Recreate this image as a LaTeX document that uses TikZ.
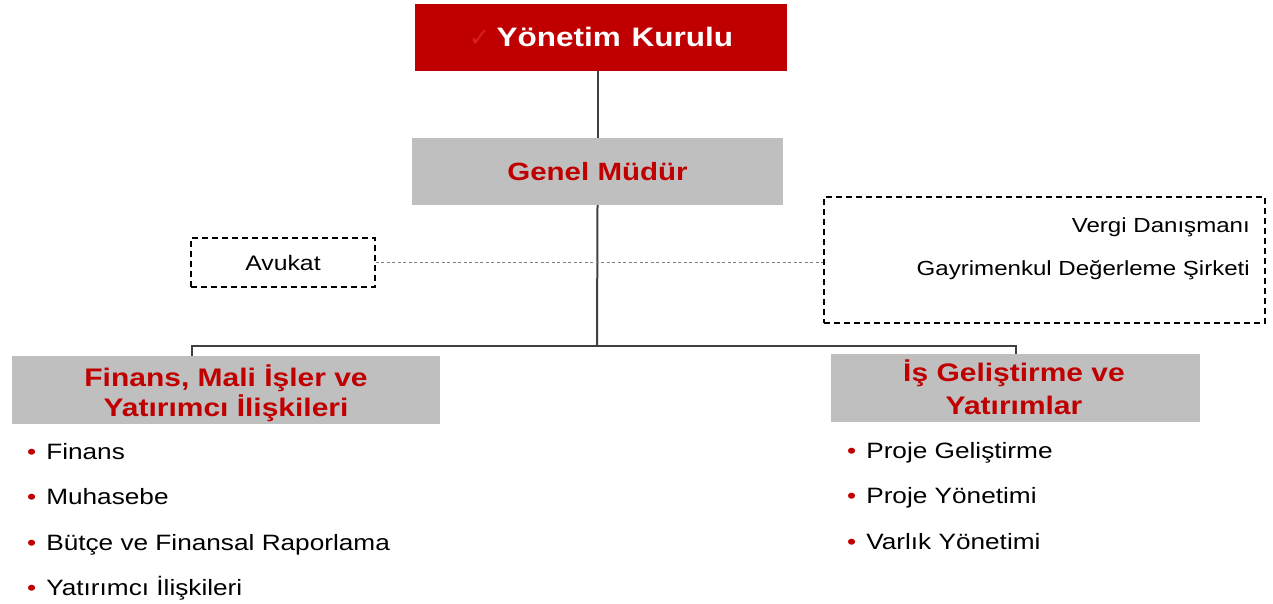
\documentclass[tikz,border=0pt]{standalone}
\usepackage{fontspec}
\setmainfont[FakeStretch=1.18]{Liberation Sans}
\newfontfamily\symfont{DejaVu Sans}
\definecolor{tred}{HTML}{C00000}
\definecolor{chk}{HTML}{D42020}
\definecolor{tgray}{HTML}{BFBFBF}
\definecolor{tline}{HTML}{404040}
\newcommand{\bul}{{\textcolor{tred}{\fontsize{22}{22}\selectfont •}}\hspace{10pt}}
\tikzset{
  redbox/.style={fill=tred, draw=none, inner sep=0pt, text=white, font=\fontsize{26.7}{30}\selectfont\bfseries},
  graybox/.style={fill=tgray, draw=none, inner sep=0pt},
  boxtext/.style={inner sep=0pt, text=tred, align=center, font=\fontsize{25.4}{30}\selectfont\bfseries},
  dashbox/.style={draw=black, dash pattern=on 6pt off 4pt, line width=1.5pt, inner sep=0pt},
  conn/.style={draw=tline, line width=2pt},
  dotconn/.style={draw=gray, dash pattern=on 3pt off 2.5pt, line width=0.9pt},
  item/.style={anchor=base west, inner sep=0pt, font=\fontsize{22.2}{26}\selectfont},
  adv/.style={anchor=base east, inner sep=0pt, font=\fontsize{20.4}{24}\selectfont},
}
\begin{document}
\begin{tikzpicture}[x=1pt,y=-1pt]
\useasboundingbox (0,0) rectangle (1273,603);
% boxes
\node[redbox, minimum width=372pt, minimum height=67pt] (top) at (601,37)
  {{\symfont\color{chk}\fontsize{26}{26}\selectfont ✓}\hspace{6pt}Yönetim\hspace{0.4em}Kurulu};
\node[graybox, minimum width=371pt, minimum height=67pt, text=tred, font=\fontsize{25}{30}\selectfont\bfseries] (gm) at (597.5,171.5) {Genel Müdür};
\node[dashbox, minimum width=184pt, minimum height=49pt, font=\fontsize{21}{24}\selectfont] (av) at (283,262.5) {Avukat};
\node[dashbox, minimum width=441pt, minimum height=126pt] (advb) at (1044.5,260) {};
\node[adv] (vd) at (1250,232) {Vergi Danışmanı};
\node[adv] (gd) at (1250,275) {Gayrimenkul Değerleme Şirketi};
\node[graybox, minimum width=428pt, minimum height=68pt] (fin) at (226,390) {};
\node[boxtext] (fint) at (226,393) {Finans, Mali İşler ve\\Yatırımcı İlişkileri};
\node[graybox, minimum width=369pt, minimum height=68pt] (isg) at (1015.5,388) {};
\node[boxtext, font=\fontsize{25.4}{33}\selectfont\bfseries] (isgt) at (1014,387.5) {İş Geliştirme ve\\Yatırımlar};
% connectors
\coordinate (bar) at (597,346);
\coordinate (lt) at (192,356);
\coordinate (rt) at (1016,354);
\draw[conn] (gm.north |- top.south) -- (gm.north);
\draw[conn] (gm.south) -- (bar);
\draw[conn] (lt) -- (lt |- bar) -- (rt |- bar) -- (rt);
\draw[dotconn] (av.east) -- (av.east -| advb.west);
% lists
\node[item] (f1) at (27,459) {\bul Finans};
\node[item] (f2) at (27,504) {\bul Muhasebe};
\node[item] (f3) at (27,550) {\bul Bütçe ve Finansal Raporlama};
\node[item] (f4) at (27,595) {\bul Yatırımcı İlişkileri};
\node[item] (i1) at (847,458) {\bul Proje Geliştirme};
\node[item] (i2) at (847,503) {\bul Proje Yönetimi};
\node[item] (i3) at (847,549) {\bul Varlık Yönetimi};
\end{tikzpicture}
\end{document}
